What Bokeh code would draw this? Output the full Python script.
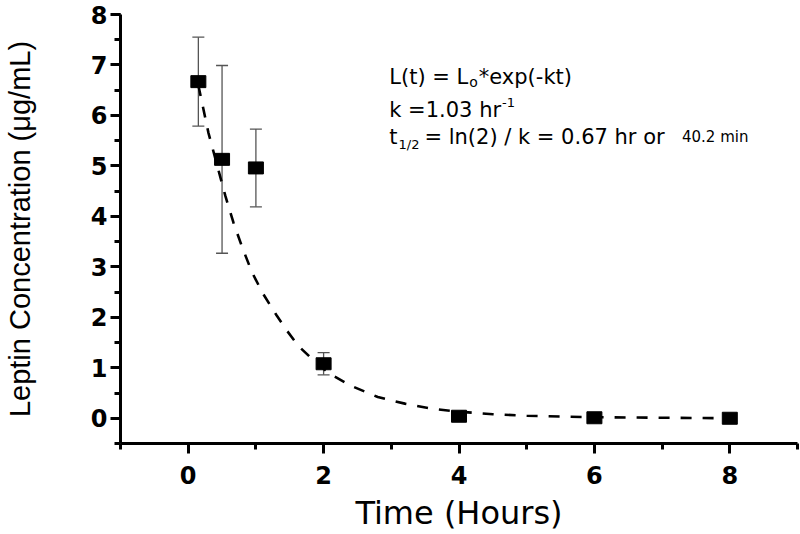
from bokeh.plotting import figure
from bokeh.models import Range1d, SingleIntervalTicker, Whisker, TeeHead, ColumnDataSource, Label
from bokeh.embed import file_html
from bokeh.resources import INLINE

# ---- data ----
time_h = [0.15, 0.5, 1, 2, 4, 6, 8]
conc = [6.67, 5.13, 4.96, 1.08, 0.04, 0.01, 0.0]
sd = [0.88, 1.86, 0.77, 0.22, 0.0, 0.0, 0.0]

fit_t = [0.15, 0.3, 0.43, 0.55, 0.67, 0.8, 0.94, 1.1, 1.3, 1.45, 1.63, 1.85, 2.09,
         2.41, 2.8, 3.2, 3.6, 4.0, 4.5, 5.0, 6.0, 7.0, 8.0]
fit_y = [6.60, 5.65, 5.0, 4.4, 3.87, 3.38, 2.9, 2.48, 2.05, 1.75, 1.43, 1.15, 0.88,
         0.64, 0.42, 0.29, 0.19, 0.13, 0.08, 0.05, 0.02, 0.01, 0.0]

x_ticks = [0, 2, 4, 6, 8]
y_ticks = [0, 1, 2, 3, 4, 5, 6, 7, 8]

# ---- figure ----
p = figure(width=800, height=534, x_range=Range1d(-1, 9), y_range=Range1d(-0.5, 8),
           output_backend="svg", toolbar_location=None,
           min_border_left=117, min_border_right=3, min_border_top=14, min_border_bottom=86)
p.outline_line_color = None
p.xgrid.visible = False
p.ygrid.visible = False
p.background_fill_color = "white"
p.border_fill_color = "white"

p.xaxis.ticker = SingleIntervalTicker(interval=2, num_minor_ticks=2)
p.yaxis.ticker = SingleIntervalTicker(interval=1, num_minor_ticks=2)

for ax in (p.xaxis[0], p.yaxis[0]):
    ax.axis_line_width = 3
    ax.axis_line_color = "black"
    ax.major_tick_line_width = 3
    ax.major_tick_line_color = "black"
    ax.minor_tick_line_width = 3
    ax.minor_tick_line_color = "black"
    ax.major_tick_in = 0
    ax.major_tick_out = 10
    ax.minor_tick_in = 0
    ax.minor_tick_out = 6
    ax.major_label_text_font = "DejaVu Sans"
    ax.major_label_text_font_style = "bold"
    ax.major_label_text_font_size = "24px"
    ax.major_label_text_color = "black"
    ax.axis_label_text_font_style = "normal"
    ax.axis_label_text_color = "black"

p.xaxis.axis_label = "Time (Hours)"
p.xaxis.axis_label_text_font = "DejaVu Sans"
p.xaxis.axis_label_text_font_size = "32px"
p.xaxis.major_label_standoff = 12
p.xaxis.axis_label_standoff = 7

p.yaxis.axis_label = "Leptin Concentration (\u03bcg/mL)"
p.yaxis.axis_label_text_font = "Liberation Sans"
p.yaxis.axis_label_text_font_size = "29px"
p.yaxis.major_label_standoff = 3
p.yaxis.axis_label_standoff = 52

# ---- fitted decay curve ----
p.line(fit_t, fit_y, line_color="black", line_width=2.6, line_dash="11 11")

# ---- error bars ----
eb = [(t, c, s) for t, c, s in zip(time_h, conc, sd) if s > 0]
err_src = ColumnDataSource(dict(
    base=[e[0] for e in eb],
    upper=[e[1] + e[2] for e in eb],
    lower=[e[1] - e[2] for e in eb],
))
ecol = "#555555"
p.add_layout(Whisker(base="base", upper="upper", lower="lower", source=err_src,
                     line_color=ecol, line_width=1.3,
                     upper_head=TeeHead(size=12, line_color=ecol, line_width=1.3),
                     lower_head=TeeHead(size=12, line_color=ecol, line_width=1.3)))

# ---- data points ----
p.rect(x=time_h, y=conc, width=15, height=12, width_units="screen", height_units="screen",
       fill_color="black", line_color="black")

# ---- annotation text ----
W = {" ": .318, "(": .390, ")": .390, "*": .5, "-": .361, ".": .318, "/": .337, "=": .838,
     "L": .557, "e": .615, "x": .592, "p": .635, "k": .579, "t": .392, "h": .634, "r": .411,
     "l": .278, "n": .634, "o": .612, "m": .974, "i": .278}


def tw(s, size):
    return sum(W.get(ch, .636) for ch in s) * size


def put(txt, x, y, dx, dy, size):
    p.add_layout(Label(x=x, y=y, x_offset=dx, y_offset=dy, text=txt, text_font="DejaVu Sans",
                       text_font_size=f"{size}px", text_color="black",
                       text_align="left", text_baseline="alphabetic"))


X0 = 2.97
FS = 21
# line 1
s1, s2, s3 = "L(t) = L", "o", "*exp(-kt)"
put(s1, X0, 6.76, 0, 0, FS)
put(s2, X0, 6.76, tw(s1, FS) + 1, -5, 14)
put(s3, X0, 6.76, tw(s1, FS) + tw(s2, 14) + 2, 0, FS)
# line 2
s1, s2 = "k =1.03 hr", "-1"
put(s1, X0, 6.10, 0, 0, FS)
put(s2, X0, 6.10, tw(s1, FS) + 1, 8, 13)
# line 3
s1, s2, s3, s4 = "t", "1/2", " = ln(2) / k = 0.67 hr or ", "40.2 min"
put(s1, X0, 5.57, 0, 0, FS)
put(s2, X0, 5.57, tw(s1, FS) + 1, -7, 13)
o3 = tw(s1, FS) + tw(s2, 13) + 6
put(s3, X0, 5.57, o3, 0, FS)
put(s4, X0, 5.57, o3 + tw(s3, FS) + 4, 0, 15)

open("out.html", "w").write(file_html(p, INLINE))
